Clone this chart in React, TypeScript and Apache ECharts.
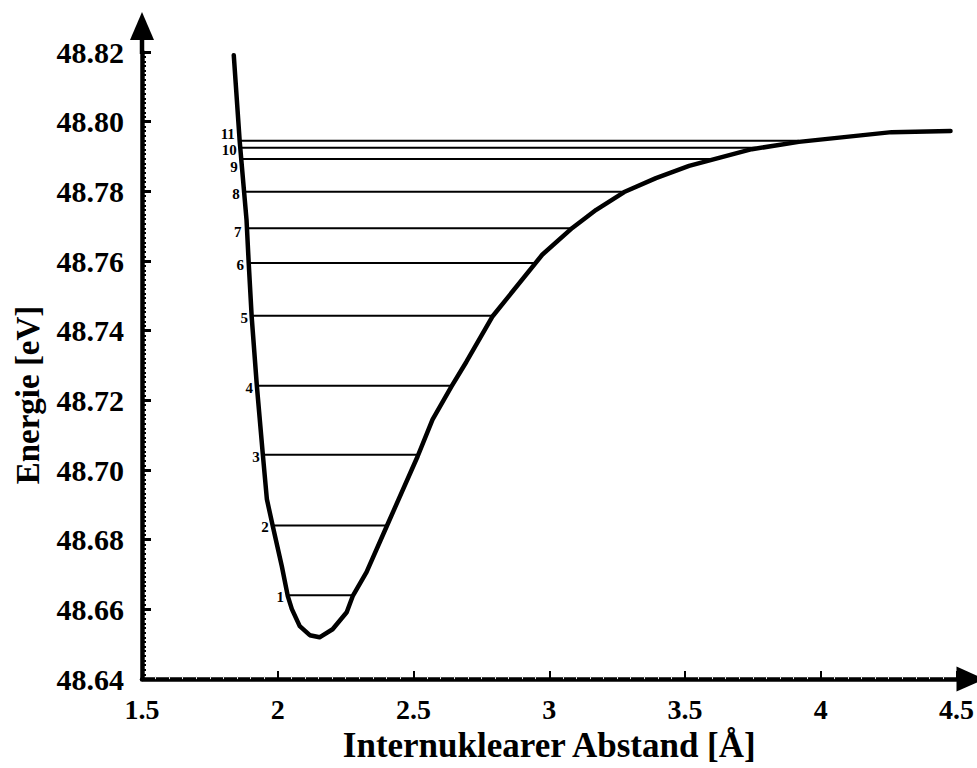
import React, { useEffect, useRef } from "react";
import * as echarts from "echarts";

// Potential energy curve (internuclear distance in Å, energy in eV)
const curveR = [
  1.838, 1.860, 1.885, 1.893, 1.904, 1.923, 1.945, 1.960, 1.982, 2.015, 2.037,
  2.052, 2.081, 2.118, 2.154, 2.202, 2.254, 2.276, 2.327, 2.401, 2.515, 2.570,
  2.640, 2.695, 2.790, 2.974, 3.085, 3.173, 3.276, 3.393, 3.515, 3.746, 3.919,
  4.261, 4.478,
];
const curveE = [
  48.8191, 48.7942, 48.7718, 48.7595, 48.744, 48.7242, 48.7045, 48.6916, 48.6838,
  48.6724, 48.6638, 48.6601, 48.6552, 48.6526, 48.652, 48.6543, 48.6592, 48.6638,
  48.6707, 48.6838, 48.7039, 48.7145, 48.724, 48.7311, 48.744, 48.7618, 48.7695,
  48.7747, 48.7798, 48.7838, 48.7873, 48.7921, 48.7942, 48.797, 48.7973,
];

// Vibrational levels
const levelNumber = [1, 2, 3, 4, 5, 6, 7, 8, 9, 10, 11];
const levelEnergy = [
  48.6641, 48.6841, 48.7044, 48.7242, 48.7443, 48.7594, 48.7694, 48.7799, 48.7893,
  48.7925, 48.7945,
];
const levelLeft = [
  2.0415, 1.9853, 1.9522, 1.9276, 1.9092, 1.8945, 1.8849, 1.8787, 1.8713, 1.8676,
  1.8603,
];
const levelRight = [
  2.2768, 2.3996, 2.5221, 2.6423, 2.7904, 2.9485, 3.0882, 3.2757, 3.5993, 3.761,
  3.9191,
];

const FONT = '"Liberation Serif", "Times New Roman", serif';

export default function App() {
  const ref = useRef<HTMLDivElement>(null);

  useEffect(() => {
    document.body.style.margin = "0";
    const chart = echarts.init(ref.current!, null, { renderer: "svg" });

    const labelNudge: Record<number, number> = { 11: -7, 10: 2, 9: 8, 7: 4 };

    const levelData = levelNumber.map((n, i) => [
      levelLeft[i],
      levelRight[i],
      levelEnergy[i],
      n,
    ]);

    const option: any = {
      animation: false,
      backgroundColor: "#ffffff",
      grid: { left: 142, right: 19, top: 52, bottom: 88 },
      xAxis: {
        type: "value",
        min: 1.5,
        max: 4.5,
        interval: 0.5,
        axisLine: { show: true, lineStyle: { color: "#000", width: 4.5 } },
        axisTick: { show: true, inside: true, length: 8, lineStyle: { color: "#000", width: 2 } },
        minorTick: { show: true, splitNumber: 10, length: 3, lineStyle: { color: "#e4e4e4", width: 1 } },
        splitLine: { show: false },
        axisLabel: {
          margin: 16,
          color: "#000",
          fontFamily: FONT,
          fontWeight: "bold",
          fontSize: 28,
        },
        name: "Internuklearer Abstand [Å]",
        nameLocation: "middle",
        nameGap: 43,
        nameTextStyle: {
          color: "#000",
          fontFamily: FONT,
          fontWeight: "bold",
          fontSize: 35,
        },
      },
      yAxis: {
        type: "value",
        min: 48.64,
        max: 48.82,
        interval: 0.02,
        axisLine: { show: true, lineStyle: { color: "#000", width: 4.5 } },
        axisTick: { show: true, inside: true, length: 9, lineStyle: { color: "#000", width: 3 } },
        minorTick: { show: true, splitNumber: 15, length: 4, lineStyle: { color: "#000", width: 2 } },
        splitLine: { show: false },
        axisLabel: {
          margin: 18,
          color: "#000",
          fontFamily: FONT,
          fontWeight: "bold",
          fontSize: 30,
          formatter: (v: number) => v.toFixed(2),
        },
      },
      series: [
        {
          type: "custom",
          data: levelData,
          encode: { x: [0, 1], y: 2 },
          z: 2,
          silent: true,
          renderItem: (params: any, api: any) => {
            const p1 = api.coord([api.value(0), api.value(2)]);
            const p2 = api.coord([api.value(1), api.value(2)]);
            const n = api.value(3);
            const dy = labelNudge[n] ?? 2;
            return {
              type: "group",
              children: [
                {
                  type: "line",
                  shape: { x1: p1[0], y1: p1[1], x2: p2[0], y2: p2[1] },
                  style: { stroke: "#000", lineWidth: 2 },
                },
                {
                  type: "text",
                  style: {
                    text: String(n),
                    x: p1[0] - 5,
                    y: p1[1] + dy,
                    align: "right",
                    verticalAlign: "middle",
                    fill: "#000",
                    font: `bold 15px ${FONT}`,
                  },
                },
              ],
            };
          },
        },
        {
          type: "line",
          data: curveR.map((r, i) => [r, curveE[i]]),
          showSymbol: false,
          symbol: "none",
          smooth: false,
          z: 3,
          lineStyle: { color: "#000", width: 4.5, join: "round", cap: "round" },
        },
      ],
    };

    chart.setOption(option);

    const top = chart.convertToPixel({ gridIndex: 0 }, [1.5, 48.82]) as number[];
    const end = chart.convertToPixel({ gridIndex: 0 }, [4.5, 48.64]) as number[];
    chart.setOption({
      graphic: [
        {
          type: "line",
          shape: { x1: top[0], y1: top[1] + 2, x2: top[0], y2: top[1] - 14 },
          style: { stroke: "#000", lineWidth: 4.5 },
        },
        {
          type: "polygon",
          shape: {
            points: [
              [top[0], top[1] - 40],
              [top[0] - 12, top[1] - 12],
              [top[0] + 12, top[1] - 12],
            ],
          },
          style: { fill: "#000" },
        },
        {
          type: "polygon",
          shape: {
            points: [
              [end[0] + 28, end[1]],
              [end[0], end[1] - 12.5],
              [end[0], end[1] + 12.5],
            ],
          },
          style: { fill: "#000" },
        },
        {
          type: "text",
          x: 28,
          y: 395,
          rotation: Math.PI / 2,
          style: {
            text: "Energie [eV]",
            align: "center",
            verticalAlign: "middle",
            fill: "#000",
            font: `bold 33px ${FONT}`,
          },
        },
      ],
    });

    return () => chart.dispose();
  }, []);

  return (
    <div
      ref={ref}
      style={{ position: "fixed", left: 0, top: 0, width: 977, height: 768 }}
    />
  );
}
